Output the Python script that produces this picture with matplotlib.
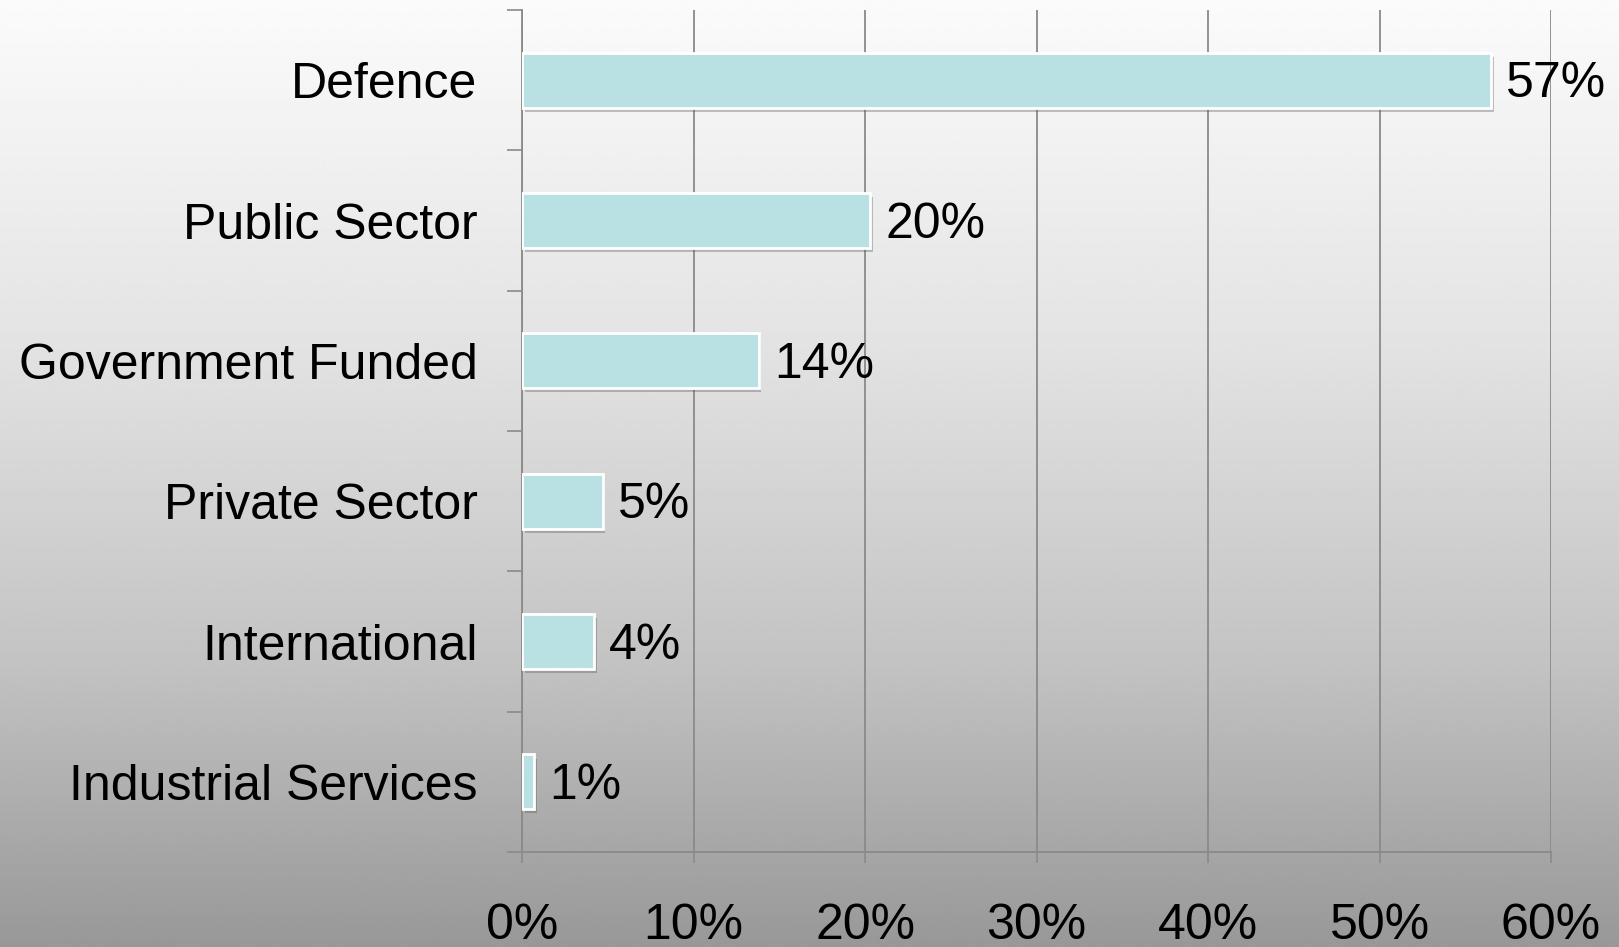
import numpy as np
import matplotlib
matplotlib.use("Agg")
import matplotlib.pyplot as plt
import matplotlib.patheffects as pe
from matplotlib.ticker import FixedLocator

plt.rcParams["font.family"] = ["Liberation Sans", "DejaVu Sans"]

# data
categories = ["Defence", "Public Sector", "Government Funded",
              "Private Sector", "International", "Industrial Services"]
shares = [56.5, 20.3, 13.8, 4.7, 4.2, 0.7]
share_labels = ["57%", "20%", "14%", "5%", "4%", "1%"]
x_ticks = [0, 10, 20, 30, 40, 50, 60]
x_tick_labels = ["0%", "10%", "20%", "30%", "40%", "50%", "60%"]

W, H, DPI = 1619, 947, 100
fig = plt.figure(figsize=(W / DPI, H / DPI), dpi=DPI)

# ── background: vertical grey gradient ───────────────────────────────────────
bg = fig.add_axes([0, 0, 1, 1], zorder=-10)
t = np.linspace(0, 1, 400)
shade = np.interp(t, [0, 0.35, 0.7, 1.0], [251, 228, 195, 152]) / 255
bg.imshow(np.repeat(shade[:, None], 2, axis=1), cmap="gray", vmin=0, vmax=1,
          aspect="auto", extent=[0, 1, 0, 1], interpolation="bilinear")
bg.axis("off")

# ── main chart ───────────────────────────────────────────────────────────────
ax = fig.add_axes([522 / W, 1 - 852 / H, (1551 - 522) / W, (852 - 10) / H])
ax.patch.set_alpha(0)

GRID = "#8a8a8a"
y = np.arange(len(categories))
bars = ax.barh(y, shares, height=0.39, color="#b9e0e3", edgecolor="white",
               linewidth=2, zorder=3)
for b in bars:
    b.set_path_effects([pe.SimplePatchShadow(offset=(2, -3), shadow_rgbFace="#555555",
                                             alpha=0.35), pe.Normal()])

for yi, v, lbl in zip(y, shares, share_labels):
    ax.annotate(lbl, (v, yi), xytext=(11, -3), textcoords="offset points",
                va="center", ha="left", fontsize=36, color="black", zorder=4)

ax.set_xlim(0, 60)
ax.set_ylim(len(categories) - 0.5, -0.5)

ax.set_xticks(x_ticks)
ax.set_xticklabels(x_tick_labels, fontsize=36)
ax.tick_params(axis="x", direction="out", length=8, width=1.2, color=GRID, pad=29)
ax.xaxis.grid(True, color=GRID, linewidth=1.3, zorder=0)

ax.set_yticks(y)
ax.set_yticklabels(categories, fontsize=36)
ax.tick_params(axis="y", which="major", length=0, pad=32)
ax.yaxis.set_minor_locator(FixedLocator(np.arange(-0.5, len(categories), 1.0)))
ax.tick_params(axis="y", which="minor", direction="out", length=11, width=1.2, color=GRID)

for side in ("top", "right"):
    ax.spines[side].set_visible(False)
for side in ("left", "bottom"):
    ax.spines[side].set_color(GRID)
    ax.spines[side].set_linewidth(1.3)

fig.savefig("out.png", dpi=DPI)
